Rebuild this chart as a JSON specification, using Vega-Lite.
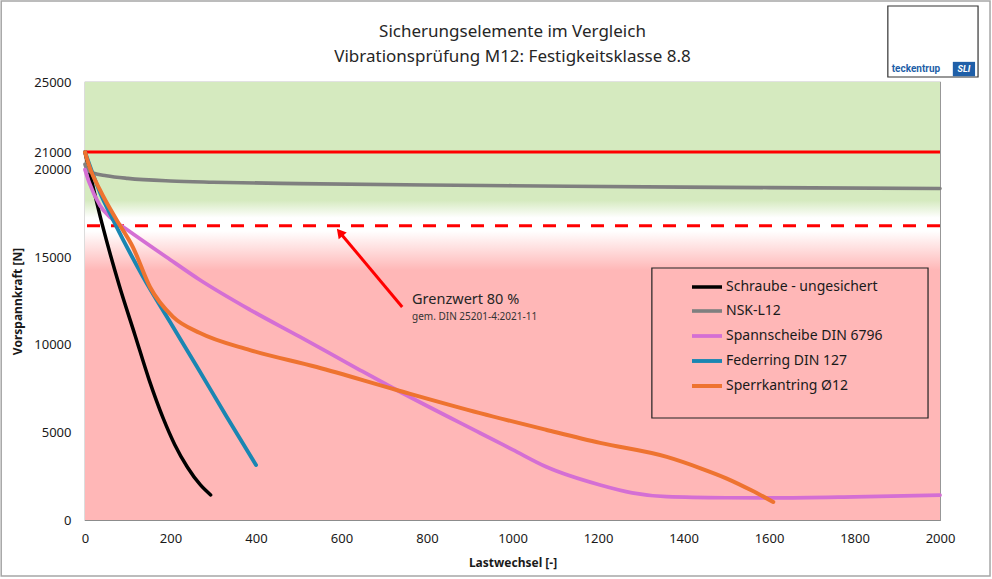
{
  "$schema": "https://vega.github.io/schema/vega-lite/v6.json",
  "autosize": "none",
  "padding": {"left": 85, "top": 82, "right": 52, "bottom": 59},
  "width": 855,
  "height": 438,
  "background": "white",
  "title": {
    "text": ["Sicherungselemente im Vergleich", "Vibrationsprüfung M12: Festigkeitsklasse 8.8"],
    "font": "Noto Sans",
    "fontSize": 17,
    "fontWeight": "normal",
    "color": "#262626",
    "lineHeight": 25,
    "anchor": "middle",
    "baseline": "alphabetic",
    "offset": -79
  },
  "data": {
    "values": [
      {"s": "Schraube - ungesichert", "x": 0, "y": 21000},
      {"s": "Schraube - ungesichert", "x": 40, "y": 16900},
      {"s": "Schraube - ungesichert", "x": 80, "y": 13400},
      {"s": "Schraube - ungesichert", "x": 117, "y": 10550},
      {"s": "Schraube - ungesichert", "x": 150, "y": 8000},
      {"s": "Schraube - ungesichert", "x": 183, "y": 5800},
      {"s": "Schraube - ungesichert", "x": 210, "y": 4300},
      {"s": "Schraube - ungesichert", "x": 240, "y": 3000},
      {"s": "Schraube - ungesichert", "x": 270, "y": 2000},
      {"s": "Schraube - ungesichert", "x": 294, "y": 1430},
      {"s": "NSK-L12", "x": 0, "y": 20300},
      {"s": "NSK-L12", "x": 5, "y": 20000},
      {"s": "NSK-L12", "x": 20, "y": 19800},
      {"s": "NSK-L12", "x": 50, "y": 19650},
      {"s": "NSK-L12", "x": 100, "y": 19500},
      {"s": "NSK-L12", "x": 200, "y": 19350},
      {"s": "NSK-L12", "x": 300, "y": 19280},
      {"s": "NSK-L12", "x": 500, "y": 19200},
      {"s": "NSK-L12", "x": 800, "y": 19120},
      {"s": "NSK-L12", "x": 1000, "y": 19080},
      {"s": "NSK-L12", "x": 1400, "y": 19000},
      {"s": "NSK-L12", "x": 1700, "y": 18960},
      {"s": "NSK-L12", "x": 2000, "y": 18920},
      {"s": "Spannscheibe DIN 6796", "x": 0, "y": 20000},
      {"s": "Spannscheibe DIN 6796", "x": 10, "y": 19250},
      {"s": "Spannscheibe DIN 6796", "x": 35, "y": 17950},
      {"s": "Spannscheibe DIN 6796", "x": 60, "y": 17250},
      {"s": "Spannscheibe DIN 6796", "x": 97, "y": 16600},
      {"s": "Spannscheibe DIN 6796", "x": 191, "y": 15000},
      {"s": "Spannscheibe DIN 6796", "x": 269, "y": 13700},
      {"s": "Spannscheibe DIN 6796", "x": 386, "y": 12000},
      {"s": "Spannscheibe DIN 6796", "x": 503, "y": 10450},
      {"s": "Spannscheibe DIN 6796", "x": 643, "y": 8560},
      {"s": "Spannscheibe DIN 6796", "x": 729, "y": 7420},
      {"s": "Spannscheibe DIN 6796", "x": 924, "y": 4966},
      {"s": "Spannscheibe DIN 6796", "x": 1000, "y": 4020},
      {"s": "Spannscheibe DIN 6796", "x": 1080, "y": 3025},
      {"s": "Spannscheibe DIN 6796", "x": 1205, "y": 2000},
      {"s": "Spannscheibe DIN 6796", "x": 1280, "y": 1550},
      {"s": "Spannscheibe DIN 6796", "x": 1361, "y": 1330},
      {"s": "Spannscheibe DIN 6796", "x": 1500, "y": 1270},
      {"s": "Spannscheibe DIN 6796", "x": 1610, "y": 1260},
      {"s": "Spannscheibe DIN 6796", "x": 1800, "y": 1320},
      {"s": "Spannscheibe DIN 6796", "x": 2000, "y": 1420},
      {"s": "Federring DIN 127", "x": 0, "y": 21000},
      {"s": "Federring DIN 127", "x": 35, "y": 18700},
      {"s": "Federring DIN 127", "x": 66, "y": 17120},
      {"s": "Federring DIN 127", "x": 136, "y": 13870},
      {"s": "Federring DIN 127", "x": 199, "y": 11300},
      {"s": "Federring DIN 127", "x": 262, "y": 8750},
      {"s": "Federring DIN 127", "x": 330, "y": 5950},
      {"s": "Federring DIN 127", "x": 400, "y": 3140},
      {"s": "Sperrkantring Ø12", "x": 0, "y": 21000},
      {"s": "Sperrkantring Ø12", "x": 10, "y": 20200},
      {"s": "Sperrkantring Ø12", "x": 35, "y": 18840},
      {"s": "Sperrkantring Ø12", "x": 74, "y": 17120},
      {"s": "Sperrkantring Ø12", "x": 112, "y": 15580},
      {"s": "Sperrkantring Ø12", "x": 152, "y": 13300},
      {"s": "Sperrkantring Ø12", "x": 206, "y": 11590},
      {"s": "Sperrkantring Ø12", "x": 269, "y": 10670},
      {"s": "Sperrkantring Ø12", "x": 386, "y": 9700},
      {"s": "Sperrkantring Ø12", "x": 542, "y": 8730},
      {"s": "Sperrkantring Ø12", "x": 729, "y": 7420},
      {"s": "Sperrkantring Ø12", "x": 924, "y": 6100},
      {"s": "Sperrkantring Ø12", "x": 1080, "y": 5140},
      {"s": "Sperrkantring Ø12", "x": 1205, "y": 4400},
      {"s": "Sperrkantring Ø12", "x": 1361, "y": 3600},
      {"s": "Sperrkantring Ø12", "x": 1440, "y": 2950},
      {"s": "Sperrkantring Ø12", "x": 1500, "y": 2380},
      {"s": "Sperrkantring Ø12", "x": 1560, "y": 1680},
      {"s": "Sperrkantring Ø12", "x": 1610, "y": 1030}
    ]
  },
  "layer": [
    {
      "data": {"values": [{}]},
      "mark": {
        "type": "rect",
        "fill": {
          "gradient": "linear", "x1": 0, "y1": 0, "x2": 0, "y2": 1,
          "stops": [
            {"offset": 0, "color": "#D5EABF"},
            {"offset": 0.27, "color": "#D5EABF"},
            {"offset": 0.31, "color": "#FFFFFF"},
            {"offset": 0.34, "color": "#FFFFFF"},
            {"offset": 0.43, "color": "#FFB7B7"},
            {"offset": 1, "color": "#FFB7B7"}
          ]
        }
      },
      "encoding": {
        "x": {"datum": 0, "type": "quantitative"},
        "x2": {"datum": 2000},
        "y": {"datum": 25000, "type": "quantitative"},
        "y2": {"datum": 0}
      }
    },
    {
      "data": {"values": [{}]},
      "mark": {"type": "rule", "color": "#FF0000", "strokeWidth": 3},
      "encoding": {"y": {"datum": 21000, "type": "quantitative"}}
    },
    {
      "data": {"values": [{}]},
      "mark": {"type": "rule", "color": "#FF0000", "strokeWidth": 3, "strokeDash": [13, 11]},
      "encoding": {"y": {"datum": 16800, "type": "quantitative"}}
    },
    {
      "mark": {"type": "line", "interpolate": "monotone", "strokeCap": "round"},
      "encoding": {
        "x": {
          "field": "x", "type": "quantitative",
          "scale": {"domain": [0, 2000], "nice": false},
          "axis": {"values": [0, 200, 400, 600, 800, 1000, 1200, 1400, 1600, 1800, 2000], "format": "d", "labelFlush": false},
          "title": "Lastwechsel [-]"
        },
        "y": {
          "field": "y", "type": "quantitative",
          "scale": {"domain": [0, 25000], "nice": false},
          "axis": {"values": [0, 5000, 10000, 15000, 20000, 21000, 25000], "format": "d"},
          "title": "Vorspannkraft [N]"
        },
        "color": {
          "field": "s", "type": "nominal",
          "scale": {
            "domain": ["Schraube - ungesichert", "NSK-L12", "Spannscheibe DIN 6796", "Federring DIN 127", "Sperrkantring Ø12"],
            "range": ["#000000", "#7F7F7F", "#D46FD4", "#1A86B2", "#EE7330"]
          },
          "legend": {
            "orient": "none",
            "legendX": 605,
            "legendY": 188,
            "title": null,
            "symbolType": "stroke",
            "symbolStrokeWidth": 3,
            "symbolSize": 900,
            "rowPadding": 0,
            "padding": 0,
            "labelOffset": 2,
            "labelFont": "Noto Sans",
            "labelFontSize": 14,
            "labelColor": "#1A1A1A",
            "labelLimit": 300
          }
        },
        "strokeWidth": {
          "field": "s", "type": "nominal",
          "scale": {
            "domain": ["Schraube - ungesichert", "NSK-L12", "Spannscheibe DIN 6796", "Federring DIN 127", "Sperrkantring Ø12"],
            "range": [3.5, 4, 4, 3.5, 4.5]
          },
          "legend": null
        }
      }
    },
    {
      "data": {"values": [{}]},
      "mark": {"type": "rect", "fill": null, "stroke": "#222222", "strokeWidth": 1.2},
      "encoding": {
        "x": {"datum": 1326, "type": "quantitative"},
        "x2": {"datum": 1972},
        "y": {"datum": 14383, "type": "quantitative"},
        "y2": {"datum": 5822}
      }
    },
    {
      "data": {"values": [{}]},
      "mark": {"type": "rule", "color": "#FF0000", "strokeWidth": 3},
      "encoding": {
        "x": {"datum": 742, "type": "quantitative"},
        "x2": {"datum": 600},
        "y": {"datum": 12160, "type": "quantitative"},
        "y2": {"datum": 16300}
      }
    },
    {
      "data": {"values": [{}]},
      "mark": {"type": "point", "shape": "triangle-up", "filled": true, "color": "#FF0000", "size": 110, "angle": 320, "opacity": 1},
      "encoding": {
        "x": {"datum": 596, "type": "quantitative"},
        "y": {"datum": 16420, "type": "quantitative"}
      }
    },
    {
      "data": {"values": [{}]},
      "mark": {"type": "text", "text": "Grenzwert 80 %", "align": "left", "baseline": "alphabetic", "font": "Noto Sans", "fontSize": 14.5, "color": "#262626"},
      "encoding": {
        "x": {"datum": 765, "type": "quantitative"},
        "y": {"datum": 12330, "type": "quantitative"}
      }
    },
    {
      "data": {"values": [{}]},
      "mark": {"type": "text", "text": "gem. DIN 25201-4:2021-11", "align": "left", "baseline": "alphabetic", "font": "Noto Sans", "fontSize": 10, "color": "#333333"},
      "encoding": {
        "x": {"datum": 765, "type": "quantitative"},
        "y": {"datum": 11415, "type": "quantitative"}
      }
    },
    {
      "data": {"values": [{}]},
      "mark": {"type": "rect", "fill": "white", "stroke": "#333333", "strokeWidth": 1.2},
      "encoding": {
        "x": {"datum": 1878, "type": "quantitative"},
        "x2": {"datum": 2089},
        "y": {"datum": 29338, "type": "quantitative"},
        "y2": {"datum": 25285}
      }
    },
    {
      "data": {"values": [{}]},
      "mark": {"type": "text", "text": "teckentrup", "align": "left", "baseline": "middle", "font": "Roboto", "fontSize": 10, "fontWeight": "bold", "color": "#1F5FA8"},
      "encoding": {
        "x": {"datum": 1887, "type": "quantitative"},
        "y": {"datum": 25720, "type": "quantitative"}
      }
    },
    {
      "data": {"values": [{}]},
      "mark": {"type": "rect", "fill": "#1F5FA8"},
      "encoding": {
        "x": {"datum": 2030, "type": "quantitative"},
        "x2": {"datum": 2082},
        "y": {"datum": 26150, "type": "quantitative"},
        "y2": {"datum": 25330}
      }
    },
    {
      "data": {"values": [{}]},
      "mark": {"type": "text", "text": "SLI", "align": "center", "baseline": "middle", "font": "Roboto", "fontSize": 9, "fontWeight": "bold", "fontStyle": "italic", "color": "white"},
      "encoding": {
        "x": {"datum": 2056, "type": "quantitative"},
        "y": {"datum": 25720, "type": "quantitative"}
      }
    },
    {
      "data": {"values": [{}]},
      "mark": {"type": "rect", "fill": null, "stroke": "#A6A6A6", "strokeWidth": 1.5},
      "encoding": {
        "x": {"datum": -196, "type": "quantitative"},
        "x2": {"datum": 2117},
        "y": {"datum": 29623, "type": "quantitative"},
        "y2": {"datum": -3196}
      }
    }
  ],
  "config": {
    "view": {"stroke": "#8C8C8C", "strokeWidth": 1.2},
    "axis": {
      "grid": false,
      "domain": false,
      "ticks": false,
      "labelFont": "Noto Sans",
      "labelFontSize": 13,
      "labelColor": "#1A1A1A",
      "titleFont": "Noto Sans",
      "titleFontSize": 12,
      "titleFontWeight": "bold",
      "titleColor": "#1A1A1A"
    },
    "axisX": {"labelPadding": 12, "titlePadding": 12},
    "axisY": {"labelPadding": 14, "titlePadding": 9}
  }
}
